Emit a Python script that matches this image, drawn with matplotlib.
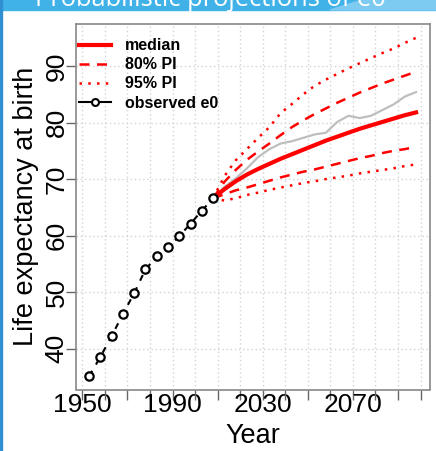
import matplotlib
matplotlib.use('Agg')
import matplotlib.pyplot as plt
from matplotlib.lines import Line2D
from matplotlib.patches import Polygon, Rectangle

# observed life expectancy (5-year period midpoints)
obs_years = [1953, 1958, 1963, 1968, 1973, 1978, 1983, 1988, 1993, 1998, 2003, 2008]
obs_e0 = [35.1, 38.5, 42.2, 46.1, 49.8, 54.0, 56.3, 57.9, 59.9, 62.1, 64.4, 66.6]

# projections
proj_years = [2008, 2013, 2018, 2023, 2028, 2033, 2038, 2043, 2048, 2053,
              2058, 2063, 2068, 2073, 2078, 2083, 2088, 2093, 2098]
median = [66.6, 68.2, 69.6, 70.8, 71.8, 72.7, 73.6, 74.4, 75.2, 76.0,
          76.8, 77.5, 78.2, 78.9, 79.5, 80.1, 80.7, 81.3, 81.8]
pi80_up = [66.6, 69.5, 71.6, 73.4, 74.9, 76.3, 77.8, 79.2, 80.4, 81.5,
           82.5, 83.5, 84.4, 85.3, 86.1, 86.9, 87.6, 88.3, 89.0]
pi80_lo = [66.6, 67.3, 68.0, 68.5, 69.1, 69.7, 70.3, 70.8, 71.3, 71.7,
           72.2, 72.7, 73.2, 73.7, 74.1, 74.6, 75.0, 75.3, 75.7]
pi95_up = [66.6, 70.5, 73.3, 75.3, 77.3, 79.2, 81.7, 83.3, 85.0, 86.5,
           87.6, 88.6, 89.6, 90.5, 91.4, 92.3, 93.1, 94.1, 95.0]
pi95_lo = [66.6, 66.2, 66.6, 67.2, 67.6, 68.1, 68.5, 68.9, 69.3, 69.6,
           70.0, 70.3, 70.6, 71.0, 71.3, 71.6, 71.9, 72.3, 72.6]
traj = [66.6, 68.6, 70.1, 71.9, 73.9, 75.3, 76.3, 76.7, 77.3, 77.9,
        78.2, 80.1, 81.2, 80.8, 81.2, 82.2, 83.2, 84.6, 85.4]

xticks = [1950, 1960, 1970, 1980, 1990, 2000, 2010, 2020, 2030, 2040,
          2050, 2060, 2070, 2080, 2090, 2100]
xlabels_shown = [1950, 1990, 2030, 2070]
yticks = [40, 50, 60, 70, 80, 90]

plt.rcParams['font.family'] = 'Liberation Sans'

W, H = 436, 451
fig = plt.figure(figsize=(W / 100, H / 100), dpi=100)
ax = fig.add_axes([76 / W, 1 - 389.5 / H, 354 / W, 365.5 / H])

# slide frame bits: title bar and left edge
fig.patches.append(Rectangle((0, 1 - 10 / H), 1, 10 / H, transform=fig.transFigure,
                             color='#40b2e8', zorder=0))
fig.patches.append(Polygon([(330 / W, 1 - 10 / H), (362 / W, 1), (1, 1), (1, 1 - 10 / H)],
                           closed=True, transform=fig.transFigure, color='#7ecbf1', zorder=0))
fig.patches.append(Rectangle((0, 0), 2 / W, 1, transform=fig.transFigure,
                             color='#2f8fd0', zorder=0))
# slide title, mostly cropped off like in the screenshot
title = fig.text(35 / W, 1 - 6.5 / H, 'Probabilistic projections of e0', color='white',
                 family='Open Sans', fontsize=16, ha='left', va='baseline')
fig.canvas.draw()
tw = title.get_window_extent().width
title.set_fontsize(16 * 352 / tw)

ax.grid(True, linestyle=(0, (1, 2)), color='#d3d3d3', linewidth=1)
ax.set_axisbelow(True)

ax.plot(proj_years, traj, color='#bebebe', lw=1.6, zorder=2)
l95, = ax.plot(proj_years, pi95_up, color='red', lw=1.8, dashes=(1, 2.5), zorder=3)
ax.plot(proj_years, pi95_lo, color='red', lw=1.8, dashes=(1, 2.5), zorder=3)
l80, = ax.plot(proj_years, pi80_up, color='red', lw=1.8, dashes=(4, 3), zorder=3)
ax.plot(proj_years, pi80_lo, color='red', lw=1.8, dashes=(4, 3), zorder=3)
lmed, = ax.plot(proj_years, median, color='red', lw=3, zorder=4)
ax.plot(obs_years, obs_e0, color='black', lw=1.5, dashes=(3, 3.5), marker='o', ms=6,
        mfc='white', mec='black', mew=1.6, zorder=5)

obs_handle = Line2D([], [], color='black', lw=1.5, marker='o', ms=5, mfc='white',
                    mec='black', mew=1.5)
ax.legend([lmed, l80, l95, obs_handle], ['median', '80% PI', '95% PI', 'observed e0'],
          loc='upper left', bbox_to_anchor=(0.0, 0.97), frameon=False,
          prop={'weight': 'bold', 'size': 11.5}, handlelength=2.0, handletextpad=0.85,
          labelspacing=0.26, borderpad=0, borderaxespad=0.2)

ax.set_xlim(1947.2, 2104.2)
ax.set_ylim(32.75, 97.45)
ax.set_xticks(xticks)
ax.set_xticklabels([str(t) if t in xlabels_shown else '' for t in xticks])
ax.set_yticks(yticks)
ax.set_yticklabels([str(t) for t in yticks], rotation=90, va='center')
ax.tick_params(axis='both', direction='out', length=7, width=1, color='#666666',
               labelsize=19)
ax.tick_params(axis='x', pad=-4.5)
ax.tick_params(axis='y', pad=-1.6)
for s in ax.spines.values():
    s.set_color('#888888')
    s.set_linewidth(1.2)

ax.set_xlabel('Year', fontsize=19.5)
ax.set_ylabel('Life expectancy at birth', fontsize=19.5)
ax.xaxis.set_label_coords(0.5, -0.093)
ax.yaxis.set_label_coords(-0.105, 0.5)

fig.savefig('out.png', dpi=100)
